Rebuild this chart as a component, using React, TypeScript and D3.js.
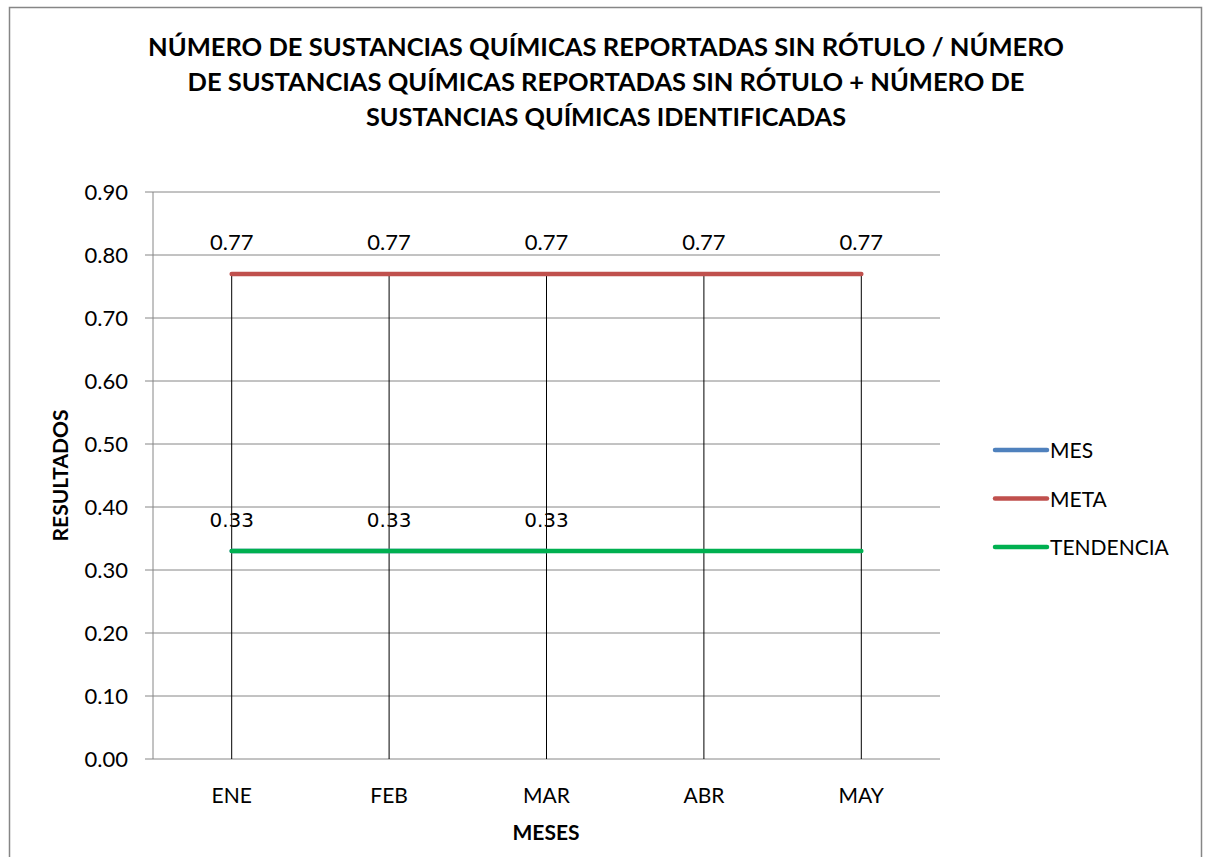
import * as d3 from "d3";

const months = ["ENE", "FEB", "MAR", "ABR", "MAY"];
const mesValues: (number | null)[] = [0.33, 0.33, 0.33, null, null];
const metaValues = [0.77, 0.77, 0.77, 0.77, 0.77];
const tendenciaValues = [0.33, 0.33, 0.33, 0.33, 0.33];
const yTicks = [0, 0.1, 0.2, 0.3, 0.4, 0.5, 0.6, 0.7, 0.8, 0.9];
const titleLines = [
  "NÚMERO DE SUSTANCIAS QUÍMICAS REPORTADAS SIN RÓTULO / NÚMERO",
  "DE SUSTANCIAS QUÍMICAS REPORTADAS SIN RÓTULO + NÚMERO DE",
  "SUSTANCIAS QUÍMICAS IDENTIFICADAS",
];
const titleWidths = [916, 837, 480];

const W = 1208;
const H = 857;
const font = "Lato, 'Open Sans', sans-serif";

export default function App() {
  const plot = { left: 153, right: 940, top: 192, bottom: 759 };
  const x = d3.scaleBand<string>().domain(months).range([plot.left, plot.right]);
  const y = d3.scaleLinear().domain([0, 0.9]).range([plot.bottom, plot.top]);
  const cx = (m: string) => (x(m) ?? 0) + x.bandwidth() / 2;

  const line = d3
    .line<number | null>()
    .defined((d) => d != null)
    .x((_, i) => cx(months[i]))
    .y((d) => y(d as number));

  const legend = [
    { name: "MES", color: "#4F81BD" },
    { name: "META", color: "#C0504D" },
    { name: "TENDENCIA", color: "#00B050" },
  ];

  return (
    <svg width={W} height={H} style={{ position: "absolute", left: 0, top: 0 }}>
      <rect x={0} y={0} width={W} height={H} fill="#fff" />
      <rect x={9.5} y={7.5} width={1192} height={870} fill="#fff" stroke="#868686" strokeWidth={1.5} />

      {titleLines.map((t, i) => (
        <text
          key={i}
          x={606}
          y={56 + i * 35}
          textAnchor="middle"
          fontFamily={font}
          fontWeight="bold"
          fontSize={25}
          textLength={titleWidths[i]}
          lengthAdjust="spacingAndGlyphs"
          fill="#000"
        >
          {t}
        </text>
      ))}

      {/* gridlines */}
      {yTicks.map((t) => (
        <line
          key={t}
          x1={plot.left - 8}
          x2={plot.right}
          y1={y(t)}
          y2={y(t)}
          stroke="#868686"
          strokeWidth={1}
        />
      ))}
      <line x1={plot.left} x2={plot.left} y1={plot.top} y2={plot.bottom} stroke="#868686" />

      {yTicks.map((t) => (
        <text
          key={t}
          x={128}
          y={y(t) + 8}
          textAnchor="end"
          fontFamily={font}
          fontSize={22}
          fill="#000"
        >
          {t.toFixed(2)}
        </text>
      ))}

      {/* drop lines */}
      {months.map((m, i) => (
        <line
          key={m}
          x1={cx(m)}
          x2={cx(m)}
          y1={y(metaValues[i])}
          y2={y(0)}
          stroke="#000"
          strokeWidth={1}
        />
      ))}

      <path d={line(mesValues) ?? ""} fill="none" stroke="#4F81BD" strokeWidth={4.5} strokeLinecap="round" />
      <path d={line(metaValues) ?? ""} fill="none" stroke="#C0504D" strokeWidth={4.5} strokeLinecap="round" />
      <path d={line(tendenciaValues) ?? ""} fill="none" stroke="#00B050" strokeWidth={4.5} strokeLinecap="round" />

      {metaValues.map((v, i) => (
        <text
          key={i}
          x={cx(months[i])}
          y={y(v) - 24}
          textAnchor="middle"
          fontFamily={font}
          fontSize={22}
          fill="#000"
        >
          {v.toFixed(2)}
        </text>
      ))}
      {mesValues.map((v, i) =>
        v == null ? null : (
          <text
            key={i}
            x={cx(months[i])}
            y={y(v) - 24}
            textAnchor="middle"
            fontFamily="'DejaVu Sans', sans-serif"
            fontSize={20}
            fill="#000"
          >
            {v.toFixed(2)}
          </text>
        )
      )}

      {months.map((m) => (
        <text
          key={m}
          x={cx(m)}
          y={803}
          textAnchor="middle"
          fontFamily={font}
          fontSize={21}
          fill="#000"
        >
          {m}
        </text>
      ))}

      <text x={546} y={840} textAnchor="middle" fontFamily={font} fontWeight="bold" fontSize={21}>
        MESES
      </text>
      <text
        transform={`translate(68, ${(plot.top + plot.bottom) / 2}) rotate(-90)`}
        textAnchor="middle"
        fontFamily={font}
        fontWeight="bold"
        fontSize={21}
      >
        RESULTADOS
      </text>

      {legend.map((l, i) => (
        <g key={l.name} transform={`translate(0, ${450 + i * 48.5})`}>
          <line x1={995} x2={1047} y1={0} y2={0} stroke={l.color} strokeWidth={4.5} strokeLinecap="round" />
          <text x={1050} y={8} fontFamily={font} fontSize={21} fill="#000">
            {l.name}
          </text>
        </g>
      ))}
    </svg>
  );
}
